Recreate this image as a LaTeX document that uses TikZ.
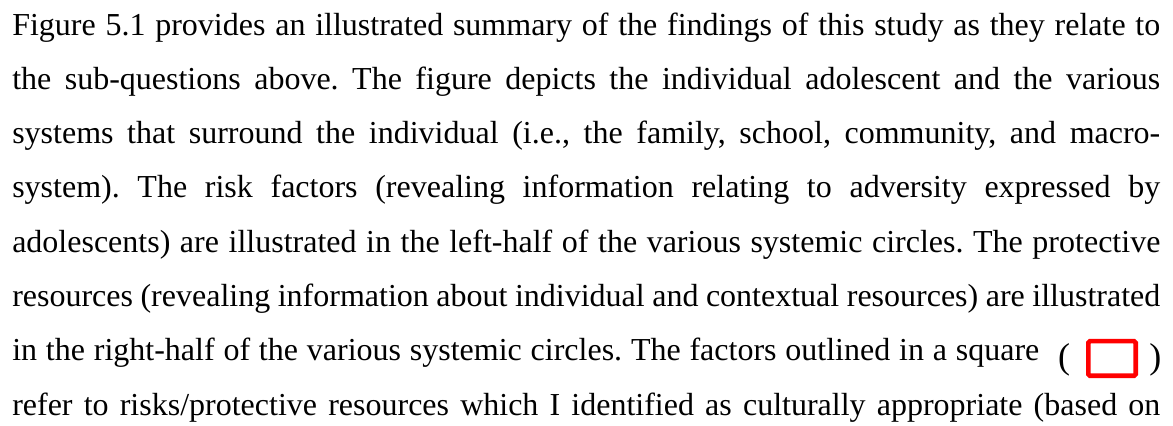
\documentclass[tikz,border=0pt]{standalone}
\usepackage{fontspec}
\setmainfont{Liberation Serif}
\usepackage{xcolor}
\definecolor{markred}{RGB}{255,0,0}
\frenchspacing

\newcommand{\linefont}{\fontsize{24pt}{40.7pt}\selectfont}
\newcommand{\parenfont}{\fontsize{27pt}{30pt}\selectfont}
% one justified line of the paragraph, spread to the given width
\newcommand{\jline}[2]{\makebox[#1][s]{#2}}

\tikzset{
  textline/.style={anchor=base west, inner sep=0pt, font=\linefont},
  paren/.style={anchor=center, inner sep=0pt, font=\parenfont},
  markbox/.style={draw=markred, line width=3.4pt, rounded corners=1.2pt}
}

\begin{document}
\begin{tikzpicture}[x=1pt,y=1pt]
  \useasboundingbox (0,0) rectangle (879.75,-318.75);

  \node[textline] (l1) at (9,-26.25)
    {\jline{861pt}{Figure 5.1 provides an illustrated summary of the findings of this study as they relate to}};
  \node[textline] (l2) at (9,-66.975)
    {\jline{861pt}{the sub-questions above. The figure depicts the individual adolescent and the various}};
  \node[textline] (l3) at (9,-107.7)
    {\jline{861pt}{systems that surround the individual (i.e., the family, school, community, and macro-}};
  \node[textline] (l4) at (9,-148.425)
    {\jline{861pt}{system). The risk factors (revealing information relating to adversity expressed by}};
  \node[textline] (l5) at (9,-189.15)
    {\jline{861pt}{adolescents) are illustrated in the left-half of the various systemic circles. The protective}};
  \node[textline] (l6) at (9,-229.875)
    {\jline{861pt}{resources (revealing information about individual and contextual resources) are illustrated}};
  \node[textline] (l7) at (9,-270.6)
    {\jline{770.25pt}{in the right-half of the various systemic circles. The factors outlined in a square}};
  \node[paren] (lp) at (798,-270) {(};
  \draw[markbox] (816.2,-255.9) rectangle (851.8,-281.8);
  \node[paren] (rp) at (866.6,-270) {)};
  \node[textline] (l8) at (9,-311.325)
    {\jline{861pt}{refer to risks/protective resources which I identified as culturally appropriate (based on}};
\end{tikzpicture}
\end{document}
